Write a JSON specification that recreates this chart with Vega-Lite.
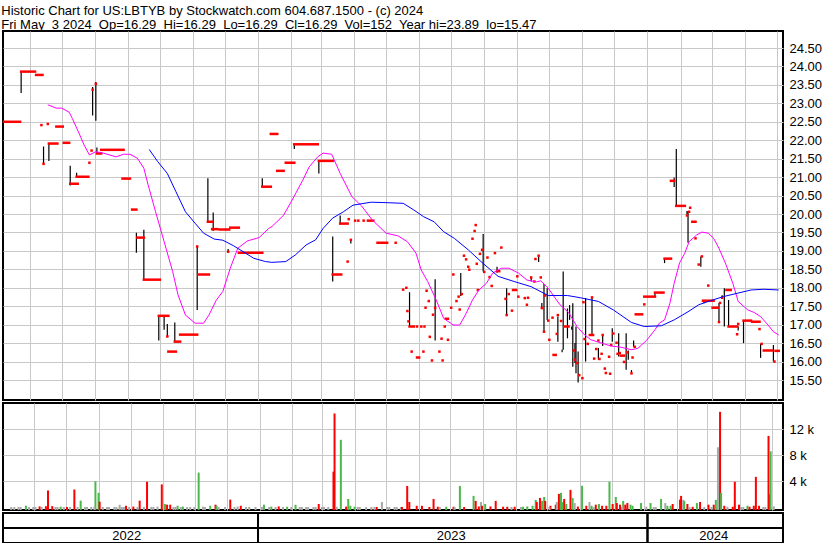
{
"$schema": "https://vega.github.io/schema/vega-lite/v6.json",
"padding": {"left": 1, "top": 5, "right": 0, "bottom": 0},
"background": "white",
"spacing": 1,
"title": {"text": ["Historic Chart for US:LBTYB by Stockwatch.com 604.687.1500 - (c) 2024", "Fri May\u00a0 3 2024\u00a0 Op=16.29\u00a0 Hi=16.29\u00a0 Lo=16.29\u00a0 Cl=16.29\u00a0 Vol=152\u00a0 Year hi=23.89\u00a0 lo=15.47"], "anchor": "start", "frame": "bounds", "font": "Liberation Sans", "fontSize": 13, "fontWeight": "normal", "color": "black", "lineHeight": 14, "offset": -2},
"config": {
  "view": {"stroke": "black", "strokeWidth": 2},
  "axis": {"labelFont": "Liberation Sans", "labelFontSize": 13, "labelColor": "black", "gridColor": "#c8c8c8", "gridOpacity": 1, "gridWidth": 1, "domain": false, "ticks": false},
  "text": {"font": "Liberation Sans", "fontSize": 13, "color": "black"}
},
"datasets": {
  "hl": [
    {"d":"2022-05-24","p":23.28,"q":23.88},{"d":"2022-06-14","p":21.36,"q":21.83},{"d":"2022-06-19","p":21.44,"q":21.93},
    {"d":"2022-07-09","p":20.77,"q":21.31},{"d":"2022-07-15","p":21.01,"q":21.12},{"d":"2022-07-30","p":22.67,"q":23.44},
    {"d":"2022-08-02","p":22.53,"q":23.58},{"d":"2022-08-03","p":21.64,"q":21.80},{"d":"2022-09-09","p":18.95,"q":19.49},
    {"d":"2022-09-16","p":18.21,"q":19.57},{"d":"2022-09-30","p":16.57,"q":17.24},{"d":"2022-10-05","p":16.86,"q":17.26},
    {"d":"2022-10-08","p":16.68,"q":17.02},{"d":"2022-10-15","p":16.54,"q":17.06},{"d":"2022-11-05","p":17.40,"q":19.13},
    {"d":"2022-11-15","p":19.79,"q":20.97},{"d":"2022-11-20","p":19.54,"q":20.04},{"d":"2022-12-04","p":18.95,"q":19.05},
    {"d":"2023-01-05","p":20.74,"q":20.97},{"d":"2023-02-04","p":21.76,"q":21.89},{"d":"2023-02-27","p":21.10,"q":21.46},
    {"d":"2023-03-12","p":18.17,"q":19.39},{"d":"2023-03-19","p":19.72,"q":19.96},{"d":"2023-03-29","p":19.20,"q":19.32},
    {"d":"2023-05-23","p":16.95,"q":17.88},{"d":"2023-06-16","p":16.57,"q":18.23},{"d":"2023-07-10","p":17.78,"q":18.40},
    {"d":"2023-07-31","p":18.44,"q":19.46},{"d":"2023-08-13","p":18.41,"q":18.57},{"d":"2023-08-22","p":17.26,"q":17.99},
    {"d":"2023-09-14","p":18.17,"q":18.30},{"d":"2023-09-21","p":18.70,"q":18.85},{"d":"2023-09-24","p":17.43,"q":17.59},
    {"d":"2023-09-26","p":16.81,"q":18.10},{"d":"2023-09-29","p":17.13,"q":17.99},{"d":"2023-10-09","p":16.54,"q":17.22},
    {"d":"2023-10-13","p":16.25,"q":16.33},{"d":"2023-10-14","p":16.32,"q":18.44},{"d":"2023-10-18","p":16.63,"q":17.44},
    {"d":"2023-10-20","p":17.13,"q":17.53},{"d":"2023-10-22","p":16.86,"q":16.95},{"d":"2023-10-23","p":15.86,"q":17.58},
    {"d":"2023-10-25","p":15.96,"q":16.50},{"d":"2023-10-26","p":15.68,"q":16.95},{"d":"2023-10-28","p":15.43,"q":16.27},
    {"d":"2023-11-04","p":16.00,"q":17.72},{"d":"2023-11-10","p":16.72,"q":17.72},{"d":"2023-11-16","p":16.05,"q":16.37},
    {"d":"2023-11-20","p":16.42,"q":16.72},{"d":"2023-11-29","p":16.54,"q":16.90},{"d":"2023-12-05","p":16.14,"q":16.77},
    {"d":"2023-12-12","p":15.78,"q":16.77},{"d":"2023-12-14","p":16.05,"q":16.30},{"d":"2023-12-17","p":15.70,"q":15.77},
    {"d":"2023-12-19","p":16.40,"q":16.57},{"d":"2024-01-08","p":17.76,"q":17.88},{"d":"2024-01-17","p":18.67,"q":18.80},
    {"d":"2024-01-26","p":20.73,"q":20.99},{"d":"2024-01-28","p":20.22,"q":21.76},{"d":"2024-02-07","p":20.00,"q":20.08},
    {"d":"2024-02-08","p":19.22,"q":20.08},{"d":"2024-02-20","p":18.57,"q":18.85},{"d":"2024-02-23","p":17.58,"q":17.63},
    {"d":"2024-03-08","p":17.07,"q":17.59},{"d":"2024-03-11","p":17.73,"q":17.80},{"d":"2024-03-13","p":16.95,"q":17.99},
    {"d":"2024-03-17","p":16.95,"q":17.67},{"d":"2024-03-26","p":16.84,"q":16.95},{"d":"2024-03-31","p":16.50,"q":17.11},
    {"d":"2024-04-16","p":16.10,"q":16.48},{"d":"2024-04-28","p":16.00,"q":16.45}
  ],
  "cl": [
    {"d":"2022-05-08","e":"2022-05-23","p":22.50},{"d":"2022-05-24","e":"2022-06-06","p":23.86},{"d":"2022-06-07","e":"2022-06-13","p":23.77},
    {"d":"2022-06-12","e":"2022-06-12","p":22.41},{"d":"2022-06-18","e":"2022-06-18","p":22.44},{"d":"2022-06-26","e":"2022-07-02","p":22.37},
    {"d":"2022-06-14","e":"2022-06-14","p":21.36},{"d":"2022-06-19","e":"2022-06-27","p":21.91},{"d":"2022-07-03","e":"2022-07-08","p":21.93},
    {"d":"2022-07-09","e":"2022-07-16","p":20.82},{"d":"2022-07-15","e":"2022-07-26","p":21.01},{"d":"2022-07-27","e":"2022-07-27","p":21.39},
    {"d":"2022-07-29","e":"2022-07-29","p":21.72},{"d":"2022-07-30","e":"2022-07-30","p":23.37},{"d":"2022-08-02","e":"2022-08-02","p":23.53},
    {"d":"2022-08-03","e":"2022-08-07","p":21.64},{"d":"2022-08-07","e":"2022-08-28","p":21.74},{"d":"2022-08-27","e":"2022-09-03","p":20.96},
    {"d":"2022-09-05","e":"2022-09-09","p":20.12},{"d":"2022-09-10","e":"2022-09-16","p":19.36},{"d":"2022-09-16","e":"2022-10-01","p":18.22},
    {"d":"2022-09-30","e":"2022-10-09","p":17.24},{"d":"2022-10-08","e":"2022-10-08","p":16.68},{"d":"2022-10-09","e":"2022-10-16","p":16.27},
    {"d":"2022-10-15","e":"2022-10-20","p":16.54},{"d":"2022-10-20","e":"2022-11-05","p":16.73},{"d":"2022-11-05","e":"2022-11-05","p":19.12},
    {"d":"2022-11-06","e":"2022-11-16","p":18.36},{"d":"2022-11-15","e":"2022-11-19","p":19.79},{"d":"2022-11-19","e":"2022-11-24","p":19.59},
    {"d":"2022-11-26","e":"2022-12-05","p":19.58},{"d":"2022-12-06","e":"2022-12-14","p":19.63},{"d":"2022-12-04","e":"2022-12-04","p":18.98},
    {"d":"2022-12-14","e":"2023-01-05","p":18.95},{"d":"2023-01-05","e":"2023-01-13","p":20.74},{"d":"2023-01-13","e":"2023-01-19","p":22.17},
    {"d":"2023-01-19","e":"2023-01-25","p":21.17},{"d":"2023-01-27","e":"2023-02-04","p":21.39},{"d":"2023-02-04","e":"2023-02-26","p":21.89},
    {"d":"2023-02-27","e":"2023-03-12","p":21.44},{"d":"2023-03-12","e":"2023-03-20","p":18.36},{"d":"2023-03-19","e":"2023-03-26","p":19.74},
    {"d":"2023-03-26","e":"2023-03-26","p":18.71},{"d":"2023-03-27","e":"2023-03-27","p":19.86},{"d":"2023-03-29","e":"2023-03-29","p":19.30},
    {"d":"2023-04-02","e":"2023-04-02","p":19.82},{"d":"2023-04-05","e":"2023-04-05","p":19.82},{"d":"2023-04-10","e":"2023-04-10","p":19.82},
    {"d":"2023-04-14","e":"2023-04-19","p":19.82},{"d":"2023-04-23","e":"2023-05-02","p":19.22},{"d":"2023-05-10","e":"2023-05-10","p":19.22},
    {"d":"2023-05-17","e":"2023-05-17","p":17.95},{"d":"2023-05-20","e":"2023-05-20","p":18.00},{"d":"2023-05-21","e":"2023-05-21","p":17.37},
    {"d":"2023-05-22","e":"2023-05-22","p":17.09},{"d":"2023-05-23","e":"2023-05-27","p":16.95},{"d":"2023-05-30","e":"2023-05-30","p":16.95},
    {"d":"2023-06-03","e":"2023-06-03","p":16.95},{"d":"2023-06-06","e":"2023-06-06","p":16.95},{"d":"2023-05-25","e":"2023-05-25","p":16.27},
    {"d":"2023-06-05","e":"2023-06-05","p":16.27},{"d":"2023-05-30","e":"2023-06-01","p":16.11},{"d":"2023-06-07","e":"2023-06-07","p":17.46},
    {"d":"2023-06-08","e":"2023-06-08","p":17.92},{"d":"2023-06-10","e":"2023-06-10","p":17.64},{"d":"2023-06-11","e":"2023-06-11","p":16.67},
    {"d":"2023-06-13","e":"2023-06-13","p":16.03},{"d":"2023-06-14","e":"2023-06-14","p":17.27},{"d":"2023-06-16","e":"2023-06-16","p":17.45},
    {"d":"2023-06-20","e":"2023-06-20","p":16.27},{"d":"2023-06-22","e":"2023-06-22","p":16.62},{"d":"2023-06-23","e":"2023-06-23","p":16.03},
    {"d":"2023-06-25","e":"2023-06-25","p":16.95},{"d":"2023-06-26","e":"2023-06-28","p":17.16},{"d":"2023-06-28","e":"2023-06-28","p":16.59},
    {"d":"2023-07-01","e":"2023-07-01","p":17.46},{"d":"2023-07-03","e":"2023-07-03","p":18.36},{"d":"2023-07-06","e":"2023-07-06","p":17.64},
    {"d":"2023-07-08","e":"2023-07-08","p":17.76},{"d":"2023-07-09","e":"2023-07-09","p":17.41},{"d":"2023-07-11","e":"2023-07-11","p":17.83},
    {"d":"2023-07-13","e":"2023-07-13","p":18.87},{"d":"2023-07-15","e":"2023-07-15","p":18.77},{"d":"2023-07-17","e":"2023-07-17","p":18.57},
    {"d":"2023-07-18","e":"2023-07-18","p":18.49},{"d":"2023-07-21","e":"2023-07-21","p":19.33},{"d":"2023-07-23","e":"2023-07-23","p":19.54},
    {"d":"2023-07-24","e":"2023-07-24","p":19.70},{"d":"2023-07-25","e":"2023-07-25","p":18.65},{"d":"2023-07-26","e":"2023-07-26","p":17.94},
    {"d":"2023-07-28","e":"2023-07-28","p":18.92},{"d":"2023-07-30","e":"2023-07-30","p":19.03},{"d":"2023-08-01","e":"2023-08-01","p":18.43},
    {"d":"2023-08-04","e":"2023-08-04","p":18.82},{"d":"2023-08-06","e":"2023-08-06","p":18.29},{"d":"2023-08-08","e":"2023-08-08","p":18.05},
    {"d":"2023-08-11","e":"2023-08-11","p":18.94},{"d":"2023-08-13","e":"2023-08-15","p":18.45},{"d":"2023-08-17","e":"2023-08-17","p":19.09},
    {"d":"2023-08-21","e":"2023-08-21","p":17.70},{"d":"2023-08-22","e":"2023-08-22","p":17.26},{"d":"2023-08-24","e":"2023-08-24","p":17.83},
    {"d":"2023-08-27","e":"2023-08-27","p":17.38},{"d":"2023-08-28","e":"2023-08-31","p":17.94},{"d":"2023-09-01","e":"2023-09-01","p":18.31},
    {"d":"2023-09-02","e":"2023-09-02","p":17.76},{"d":"2023-09-08","e":"2023-09-08","p":17.72},{"d":"2023-09-10","e":"2023-09-10","p":17.54},
    {"d":"2023-09-11","e":"2023-09-11","p":17.73},{"d":"2023-09-14","e":"2023-09-14","p":18.28},{"d":"2023-09-17","e":"2023-09-17","p":18.17},
    {"d":"2023-09-18","e":"2023-09-18","p":18.78},{"d":"2023-09-21","e":"2023-09-21","p":18.87},{"d":"2023-09-23","e":"2023-09-23","p":18.28},
    {"d":"2023-09-24","e":"2023-09-24","p":17.45},{"d":"2023-09-26","e":"2023-09-26","p":16.81},{"d":"2023-09-27","e":"2023-09-27","p":17.79},
    {"d":"2023-09-30","e":"2023-09-30","p":17.11},{"d":"2023-10-01","e":"2023-10-01","p":16.59},{"d":"2023-10-04","e":"2023-10-04","p":17.19},
    {"d":"2023-10-05","e":"2023-10-07","p":16.18},{"d":"2023-10-08","e":"2023-10-08","p":16.75},{"d":"2023-10-09","e":"2023-10-09","p":17.26},
    {"d":"2023-10-12","e":"2023-10-12","p":17.10},{"d":"2023-10-15","e":"2023-10-19","p":16.95},{"d":"2023-10-24","e":"2023-10-24","p":16.30},
    {"d":"2023-10-25","e":"2023-10-25","p":16.05},{"d":"2023-10-27","e":"2023-10-27","p":15.96},{"d":"2023-10-29","e":"2023-10-29","p":15.63},
    {"d":"2023-11-01","e":"2023-11-01","p":15.55},{"d":"2023-11-02","e":"2023-11-02","p":17.61},{"d":"2023-11-03","e":"2023-11-03","p":16.61},
    {"d":"2023-11-06","e":"2023-11-06","p":16.48},{"d":"2023-11-08","e":"2023-11-11","p":16.72},{"d":"2023-11-10","e":"2023-11-10","p":17.74},
    {"d":"2023-11-12","e":"2023-11-12","p":16.08},{"d":"2023-11-14","e":"2023-11-14","p":16.34},{"d":"2023-11-16","e":"2023-11-16","p":16.57},
    {"d":"2023-11-17","e":"2023-11-17","p":16.07},{"d":"2023-11-19","e":"2023-11-19","p":16.21},{"d":"2023-11-20","e":"2023-11-20","p":16.72},
    {"d":"2023-11-22","e":"2023-11-22","p":15.81},{"d":"2023-11-23","e":"2023-11-23","p":15.69},{"d":"2023-11-26","e":"2023-11-26","p":16.13},
    {"d":"2023-11-27","e":"2023-11-27","p":15.67},{"d":"2023-11-28","e":"2023-11-28","p":16.45},{"d":"2023-11-30","e":"2023-11-30","p":16.76},
    {"d":"2023-12-03","e":"2023-12-03","p":16.51},{"d":"2023-12-04","e":"2023-12-04","p":16.21},{"d":"2023-12-06","e":"2023-12-06","p":16.23},
    {"d":"2023-12-07","e":"2023-12-10","p":16.16},{"d":"2023-12-10","e":"2023-12-10","p":15.99},{"d":"2023-12-13","e":"2023-12-13","p":16.25},
    {"d":"2023-12-17","e":"2023-12-17","p":15.68},{"d":"2023-12-18","e":"2023-12-18","p":16.11},{"d":"2023-12-20","e":"2023-12-20","p":16.40},
    {"d":"2023-12-21","e":"2023-12-27","p":17.28},{"d":"2023-12-29","e":"2023-12-29","p":17.55},{"d":"2023-12-29","e":"2024-01-08","p":17.76},
    {"d":"2024-01-08","e":"2024-01-16","p":17.87},{"d":"2024-01-17","e":"2024-01-23","p":18.79},{"d":"2024-01-23","e":"2024-01-26","p":20.90},
    {"d":"2024-01-28","e":"2024-02-05","p":20.22},{"d":"2024-02-07","e":"2024-02-07","p":19.96},{"d":"2024-02-09","e":"2024-02-09","p":20.06},
    {"d":"2024-02-10","e":"2024-02-10","p":20.17},{"d":"2024-02-12","e":"2024-02-15","p":19.79},{"d":"2024-02-15","e":"2024-02-15","p":19.34},
    {"d":"2024-02-18","e":"2024-02-18","p":18.63},{"d":"2024-02-21","e":"2024-02-21","p":18.85},{"d":"2024-02-22","e":"2024-03-03","p":17.65},
    {"d":"2024-02-27","e":"2024-02-27","p":18.06},{"d":"2024-03-02","e":"2024-03-07","p":17.46},{"d":"2024-03-08","e":"2024-03-08","p":17.07},
    {"d":"2024-03-09","e":"2024-03-09","p":17.59},{"d":"2024-03-11","e":"2024-03-11","p":17.73},{"d":"2024-03-15","e":"2024-03-19","p":17.94},
    {"d":"2024-03-17","e":"2024-03-25","p":16.95},{"d":"2024-03-25","e":"2024-03-25","p":16.74},{"d":"2024-03-26","e":"2024-03-26","p":17.02},
    {"d":"2024-03-31","e":"2024-04-07","p":17.11},{"d":"2024-04-08","e":"2024-04-15","p":17.08},{"d":"2024-04-15","e":"2024-04-15","p":16.88},
    {"d":"2024-04-17","e":"2024-04-17","p":16.48},{"d":"2024-04-19","e":"2024-04-27","p":16.30},{"d":"2024-04-29","e":"2024-04-29","p":16.00},
    {"d":"2024-04-30","e":"2024-05-03","p":16.29}
  ],
  "ma1": [
    {"d":"2022-06-18","p":22.96},{"d":"2022-06-26","p":22.87},{"d":"2022-07-01","p":22.87},{"d":"2022-07-08","p":22.76},{"d":"2022-07-11","p":22.59},
    {"d":"2022-07-18","p":22.14},{"d":"2022-07-22","p":21.87},{"d":"2022-07-27","p":21.60},{"d":"2022-08-02","p":21.69},{"d":"2022-08-09","p":21.65},
    {"d":"2022-08-21","p":21.55},{"d":"2022-08-28","p":21.62},{"d":"2022-09-03","p":21.62},{"d":"2022-09-10","p":21.51},{"d":"2022-09-16","p":21.24},
    {"d":"2022-09-20","p":20.79},{"d":"2022-09-27","p":20.06},{"d":"2022-10-05","p":19.25},{"d":"2022-10-13","p":18.44},{"d":"2022-10-18","p":17.81},
    {"d":"2022-10-25","p":17.26},{"d":"2022-11-03","p":17.04},{"d":"2022-11-11","p":17.04},{"d":"2022-11-16","p":17.26},{"d":"2022-11-23","p":17.67},
    {"d":"2022-11-29","p":17.90},{"d":"2022-12-06","p":18.53},{"d":"2022-12-13","p":19.07},{"d":"2022-12-22","p":19.27},{"d":"2023-01-02","p":19.36},
    {"d":"2023-01-11","p":19.61},{"d":"2023-01-14","p":19.66},{"d":"2023-01-23","p":19.91},{"d":"2023-01-25","p":19.97},{"d":"2023-02-02","p":20.38},
    {"d":"2023-02-12","p":20.92},{"d":"2023-02-18","p":21.28},{"d":"2023-02-26","p":21.55},{"d":"2023-03-03","p":21.65},{"d":"2023-03-11","p":21.62},
    {"d":"2023-03-19","p":21.10},{"d":"2023-03-30","p":20.47},{"d":"2023-04-08","p":20.22},{"d":"2023-04-18","p":19.84},{"d":"2023-05-01","p":19.48},
    {"d":"2023-05-12","p":19.41},{"d":"2023-05-21","p":19.25},{"d":"2023-05-29","p":18.94},{"d":"2023-06-03","p":18.48},{"d":"2023-06-09","p":18.17},
    {"d":"2023-06-17","p":17.67},{"d":"2023-06-24","p":17.17},{"d":"2023-07-03","p":16.99},{"d":"2023-07-09","p":16.99},{"d":"2023-07-15","p":17.30},
    {"d":"2023-07-21","p":17.67},{"d":"2023-07-27","p":17.94},{"d":"2023-08-03","p":18.12},{"d":"2023-08-09","p":18.40},{"d":"2023-08-17","p":18.53},
    {"d":"2023-08-24","p":18.53},{"d":"2023-09-02","p":18.40},{"d":"2023-09-10","p":18.21},{"d":"2023-09-19","p":18.16},{"d":"2023-09-23","p":18.19},
    {"d":"2023-09-30","p":17.99},{"d":"2023-10-05","p":17.78},{"d":"2023-10-11","p":17.54},{"d":"2023-10-19","p":17.33},{"d":"2023-10-27","p":16.95},
    {"d":"2023-11-02","p":16.75},{"d":"2023-11-09","p":16.59},{"d":"2023-11-19","p":16.50},{"d":"2023-11-28","p":16.42},{"d":"2023-12-07","p":16.39},
    {"d":"2023-12-17","p":16.32},{"d":"2023-12-23","p":16.36},{"d":"2023-12-31","p":16.57},{"d":"2024-01-08","p":16.86},{"d":"2024-01-12","p":17.04},
    {"d":"2024-01-17","p":17.13},{"d":"2024-01-22","p":17.58},{"d":"2024-01-26","p":18.12},{"d":"2024-01-31","p":18.67},{"d":"2024-02-05","p":18.94},
    {"d":"2024-02-09","p":19.25},{"d":"2024-02-16","p":19.43},{"d":"2024-02-21","p":19.51},{"d":"2024-02-27","p":19.48},{"d":"2024-03-03","p":19.34},
    {"d":"2024-03-08","p":19.07},{"d":"2024-03-14","p":18.67},{"d":"2024-03-21","p":18.12},{"d":"2024-03-26","p":17.63},{"d":"2024-04-04","p":17.40},
    {"d":"2024-04-10","p":17.33},{"d":"2024-04-16","p":17.22},{"d":"2024-04-23","p":16.99},{"d":"2024-04-28","p":16.81},{"d":"2024-05-03","p":16.72}
  ],
  "ma2": [
    {"d":"2022-09-21","p":21.75},{"d":"2022-09-29","p":21.42},{"d":"2022-10-08","p":21.10},{"d":"2022-10-16","p":20.61},{"d":"2022-10-25","p":20.06},
    {"d":"2022-11-03","p":19.75},{"d":"2022-11-11","p":19.48},{"d":"2022-11-21","p":19.32},{"d":"2022-11-29","p":19.29},{"d":"2022-12-09","p":19.14},
    {"d":"2022-12-18","p":18.98},{"d":"2022-12-28","p":18.80},{"d":"2023-01-08","p":18.71},{"d":"2023-01-14","p":18.69},{"d":"2023-01-27","p":18.71},
    {"d":"2023-02-05","p":18.89},{"d":"2023-02-15","p":19.16},{"d":"2023-02-24","p":19.30},{"d":"2023-03-03","p":19.61},{"d":"2023-03-12","p":19.89},
    {"d":"2023-03-22","p":20.06},{"d":"2023-03-31","p":20.24},{"d":"2023-04-17","p":20.32},{"d":"2023-04-29","p":20.31},{"d":"2023-05-17","p":20.29},
    {"d":"2023-05-27","p":20.11},{"d":"2023-06-05","p":19.93},{"d":"2023-06-15","p":19.79},{"d":"2023-06-24","p":19.52},{"d":"2023-07-04","p":19.34},
    {"d":"2023-07-17","p":19.03},{"d":"2023-07-29","p":18.71},{"d":"2023-08-14","p":18.31},{"d":"2023-08-29","p":18.17},{"d":"2023-09-14","p":18.03},
    {"d":"2023-09-30","p":17.79},{"d":"2023-10-18","p":17.79},{"d":"2023-10-30","p":17.73},{"d":"2023-11-16","p":17.63},{"d":"2023-11-30","p":17.40},
    {"d":"2023-12-17","p":17.06},{"d":"2023-12-29","p":16.95},{"d":"2024-01-14","p":16.97},{"d":"2024-01-26","p":17.13},{"d":"2024-02-08","p":17.35},
    {"d":"2024-02-18","p":17.54},{"d":"2024-02-29","p":17.65},{"d":"2024-03-12","p":17.76},{"d":"2024-03-25","p":17.85},{"d":"2024-04-07","p":17.94},
    {"d":"2024-04-19","p":17.96},{"d":"2024-05-03","p":17.94}
  ],
  "vol": [
    {"d":"2022-05-24","v":260,"c":"up"},{"d":"2022-06-06","v":150,"c":"down"},{"d":"2022-06-12","v":180,"c":"down"},{"d":"2022-06-14","v":2600,"c":"down"},
    {"d":"2022-06-18","v":200,"c":"down"},{"d":"2022-06-26","v":120,"c":"up"},{"d":"2022-07-02","v":60,"c":"down"},{"d":"2022-07-09","v":2750,"c":"down"},
    {"d":"2022-07-15","v":1040,"c":"up"},{"d":"2022-07-29","v":4000,"c":"up"},{"d":"2022-08-01","v":2240,"c":"up"},{"d":"2022-08-02","v":880,"c":"down"},
    {"d":"2022-07-28","v":100,"c":"flat"},{"d":"2022-08-21","v":400,"c":"flat"},{"d":"2022-08-27","v":250,"c":"down"},{"d":"2022-09-03","v":120,"c":"down"},
    {"d":"2022-09-09","v":1040,"c":"down"},{"d":"2022-09-16","v":3950,"c":"down"},{"d":"2022-09-26","v":120,"c":"flat"},{"d":"2022-09-30","v":3540,"c":"down"},
    {"d":"2022-10-03","v":520,"c":"up"},{"d":"2022-10-05","v":420,"c":"down"},{"d":"2022-10-08","v":420,"c":"down"},{"d":"2022-10-15","v":250,"c":"up"},
    {"d":"2022-10-20","v":120,"c":"up"},{"d":"2022-11-04","v":5360,"c":"up"},{"d":"2022-11-08","v":120,"c":"flat"},{"d":"2022-11-15","v":250,"c":"up"},
    {"d":"2022-11-20","v":420,"c":"down"},{"d":"2022-11-21","v":250,"c":"up"},{"d":"2022-12-04","v":1200,"c":"down"},{"d":"2022-12-11","v":120,"c":"flat"},
    {"d":"2022-12-14","v":250,"c":"down"},{"d":"2023-01-05","v":420,"c":"up"},{"d":"2023-01-12","v":120,"c":"up"},{"d":"2023-01-19","v":150,"c":"down"},
    {"d":"2023-01-27","v":100,"c":"up"},{"d":"2023-02-04","v":400,"c":"up"},{"d":"2023-02-26","v":520,"c":"down"},{"d":"2023-03-12","v":5500,"c":"down"},
    {"d":"2023-03-13","v":14450,"c":"down"},{"d":"2023-03-15","v":100,"c":"flat"},{"d":"2023-03-19","v":10400,"c":"up"},{"d":"2023-03-24","v":120,"c":"down"},
    {"d":"2023-03-26","v":1300,"c":"up"},{"d":"2023-03-28","v":250,"c":"up"},{"d":"2023-04-01","v":100,"c":"up"},{"d":"2023-04-22","v":60,"c":"down"},
    {"d":"2023-04-27","v":830,"c":"flat"},{"d":"2023-05-15","v":60,"c":"flat"},{"d":"2023-05-16","v":60,"c":"down"},{"d":"2023-05-21","v":3300,"c":"down"},
    {"d":"2023-05-23","v":830,"c":"down"},{"d":"2023-05-30","v":250,"c":"down"},{"d":"2023-06-04","v":250,"c":"down"},{"d":"2023-06-11","v":60,"c":"down"},
    {"d":"2023-06-15","v":1300,"c":"down"},{"d":"2023-06-19","v":100,"c":"down"},{"d":"2023-06-27","v":100,"c":"up"},{"d":"2023-07-04","v":100,"c":"down"},
    {"d":"2023-07-10","v":3300,"c":"up"},{"d":"2023-07-14","v":60,"c":"down"},{"d":"2023-07-23","v":1770,"c":"up"},{"d":"2023-07-25","v":1000,"c":"down"},
    {"d":"2023-07-28","v":150,"c":"down"},{"d":"2023-07-30","v":830,"c":"flat"},{"d":"2023-07-31","v":250,"c":"down"},{"d":"2023-08-03","v":520,"c":"up"},
    {"d":"2023-08-08","v":150,"c":"down"},{"d":"2023-08-13","v":1000,"c":"down"},{"d":"2023-08-20","v":100,"c":"down"},{"d":"2023-08-24","v":100,"c":"down"},
    {"d":"2023-08-31","v":100,"c":"down"},{"d":"2023-09-08","v":100,"c":"up"},{"d":"2023-09-12","v":150,"c":"up"},{"d":"2023-09-17","v":250,"c":"up"},
    {"d":"2023-09-20","v":1150,"c":"up"},{"d":"2023-09-21","v":830,"c":"down"},{"d":"2023-09-24","v":1460,"c":"down"},{"d":"2023-09-26","v":1000,"c":"up"},
    {"d":"2023-09-28","v":1600,"c":"up"},{"d":"2023-09-29","v":1000,"c":"down"},{"d":"2023-10-04","v":250,"c":"down"},{"d":"2023-10-09","v":420,"c":"down"},
    {"d":"2023-10-10","v":830,"c":"flat"},{"d":"2023-10-12","v":2080,"c":"down"},{"d":"2023-10-14","v":2240,"c":"up"},{"d":"2023-10-15","v":830,"c":"up"},
    {"d":"2023-10-17","v":1300,"c":"down"},{"d":"2023-10-19","v":520,"c":"up"},{"d":"2023-10-23","v":2700,"c":"down"},{"d":"2023-10-25","v":1460,"c":"up"},
    {"d":"2023-10-27","v":670,"c":"flat"},{"d":"2023-10-30","v":120,"c":"down"},{"d":"2023-11-03","v":3330,"c":"up"},{"d":"2023-11-07","v":250,"c":"down"},
    {"d":"2023-11-10","v":830,"c":"flat"},{"d":"2023-11-12","v":250,"c":"up"},{"d":"2023-11-16","v":420,"c":"down"},{"d":"2023-11-19","v":520,"c":"up"},
    {"d":"2023-11-22","v":250,"c":"down"},{"d":"2023-11-26","v":250,"c":"down"},{"d":"2023-11-29","v":3950,"c":"up"},{"d":"2023-12-02","v":520,"c":"down"},
    {"d":"2023-12-05","v":1600,"c":"up"},{"d":"2023-12-06","v":670,"c":"down"},{"d":"2023-12-09","v":420,"c":"down"},{"d":"2023-12-12","v":1000,"c":"up"},
    {"d":"2023-12-14","v":420,"c":"down"},{"d":"2023-12-16","v":670,"c":"down"},{"d":"2023-12-19","v":420,"c":"up"},{"d":"2023-12-21","v":250,"c":"up"},
    {"d":"2023-12-29","v":670,"c":"up"},{"d":"2024-01-03","v":100,"c":"flat"},{"d":"2024-01-07","v":670,"c":"up"},{"d":"2024-01-17","v":1300,"c":"up"},
    {"d":"2024-01-21","v":670,"c":"flat"},{"d":"2024-01-23","v":250,"c":"up"},{"d":"2024-01-26","v":250,"c":"up"},{"d":"2024-01-28","v":520,"c":"down"},
    {"d":"2024-02-04","v":1200,"c":"down"},{"d":"2024-02-05","v":1770,"c":"down"},{"d":"2024-02-07","v":1150,"c":"flat"},{"d":"2024-02-08","v":1000,"c":"up"},
    {"d":"2024-02-11","v":520,"c":"down"},{"d":"2024-02-16","v":100,"c":"down"},{"d":"2024-02-20","v":670,"c":"up"},{"d":"2024-02-23","v":830,"c":"down"},
    {"d":"2024-03-02","v":420,"c":"down"},{"d":"2024-03-07","v":420,"c":"down"},{"d":"2024-03-09","v":1150,"c":"up"},{"d":"2024-03-11","v":9250,"c":"flat"},
    {"d":"2024-03-13","v":14700,"c":"down"},{"d":"2024-03-14","v":2240,"c":"up"},{"d":"2024-03-17","v":250,"c":"down"},{"d":"2024-03-20","v":100,"c":"flat"},
    {"d":"2024-03-25","v":100,"c":"down"},{"d":"2024-03-27","v":3950,"c":"down"},{"d":"2024-03-31","v":420,"c":"down"},{"d":"2024-04-08","v":250,"c":"up"},
    {"d":"2024-04-10","v":100,"c":"down"},{"d":"2024-04-14","v":250,"c":"down"},{"d":"2024-04-16","v":4700,"c":"down"},{"d":"2024-04-19","v":250,"c":"down"},
    {"d":"2024-04-28","v":11000,"c":"down"},{"d":"2024-04-29","v":2000,"c":"down"},{"d":"2024-04-30","v":8630,"c":"up"},{"d":"2024-05-03","v":152,"c":"flat"},
    {"d":"2022-05-10","v":60,"c":"flat"},{"d":"2022-05-13","v":60,"c":"flat"},{"d":"2022-05-17","v":60,"c":"flat"},{"d":"2022-05-19","v":60,"c":"flat"},
    {"d":"2022-05-27","v":60,"c":"flat"},{"d":"2022-05-31","v":60,"c":"flat"},{"d":"2022-06-02","v":60,"c":"flat"},{"d":"2022-06-08","v":60,"c":"flat"},
    {"d":"2022-06-21","v":60,"c":"flat"},{"d":"2022-06-23","v":60,"c":"flat"},{"d":"2022-06-29","v":60,"c":"flat"},{"d":"2022-07-05","v":60,"c":"flat"},
    {"d":"2022-07-12","v":60,"c":"flat"},{"d":"2022-07-19","v":60,"c":"flat"},{"d":"2022-07-21","v":60,"c":"flat"},{"d":"2022-07-25","v":60,"c":"flat"},
    {"d":"2022-08-05","v":60,"c":"flat"},{"d":"2022-08-09","v":60,"c":"flat"},{"d":"2022-08-11","v":60,"c":"flat"},{"d":"2022-08-16","v":60,"c":"flat"},
    {"d":"2022-08-18","v":60,"c":"flat"},{"d":"2022-08-23","v":60,"c":"flat"},{"d":"2022-08-25","v":60,"c":"flat"},{"d":"2022-08-30","v":60,"c":"flat"},
    {"d":"2022-09-07","v":60,"c":"flat"},{"d":"2022-09-13","v":60,"c":"flat"},{"d":"2022-09-20","v":60,"c":"flat"},{"d":"2022-09-22","v":60,"c":"flat"},
    {"d":"2022-10-11","v":60,"c":"flat"},{"d":"2022-10-13","v":60,"c":"flat"},{"d":"2022-10-18","v":60,"c":"flat"},{"d":"2022-10-24","v":60,"c":"flat"},
    {"d":"2022-10-27","v":60,"c":"flat"},{"d":"2022-10-31","v":60,"c":"flat"},{"d":"2022-11-10","v":60,"c":"flat"},{"d":"2022-11-23","v":60,"c":"flat"},
    {"d":"2022-11-29","v":60,"c":"flat"},{"d":"2022-12-08","v":60,"c":"flat"},{"d":"2022-12-19","v":60,"c":"flat"},{"d":"2022-12-22","v":60,"c":"flat"},
    {"d":"2022-12-28","v":60,"c":"flat"},{"d":"2023-01-03","v":60,"c":"flat"},{"d":"2023-01-10","v":60,"c":"flat"},{"d":"2023-01-16","v":60,"c":"flat"},
    {"d":"2023-01-23","v":60,"c":"flat"},{"d":"2023-01-31","v":60,"c":"flat"},{"d":"2023-02-08","v":60,"c":"flat"},{"d":"2023-02-10","v":60,"c":"flat"},
    {"d":"2023-02-14","v":60,"c":"flat"},{"d":"2023-02-16","v":60,"c":"flat"},{"d":"2023-02-21","v":60,"c":"flat"},{"d":"2023-02-23","v":60,"c":"flat"},
    {"d":"2023-03-01","v":60,"c":"flat"},{"d":"2023-03-03","v":60,"c":"flat"},{"d":"2023-03-07","v":60,"c":"flat"},{"d":"2023-04-04","v":60,"c":"flat"},
    {"d":"2023-04-06","v":60,"c":"flat"},{"d":"2023-04-12","v":60,"c":"flat"},{"d":"2023-04-17","v":60,"c":"flat"},{"d":"2023-04-20","v":60,"c":"flat"},
    {"d":"2023-05-02","v":60,"c":"flat"},{"d":"2023-05-04","v":60,"c":"flat"},{"d":"2023-05-09","v":60,"c":"flat"},{"d":"2023-05-11","v":60,"c":"flat"},
    {"d":"2023-06-21","v":60,"c":"flat"},{"d":"2023-07-05","v":60,"c":"flat"},{"d":"2023-08-28","v":60,"c":"flat"},{"d":"2023-09-06","v":60,"c":"flat"},
    {"d":"2023-10-03","v":60,"c":"flat"},{"d":"2023-11-14","v":60,"c":"flat"},{"d":"2023-12-11","v":60,"c":"flat"},{"d":"2024-01-10","v":60,"c":"flat"},
    {"d":"2024-01-12","v":60,"c":"flat"},{"d":"2024-02-13","v":60,"c":"flat"},{"d":"2024-02-27","v":60,"c":"flat"},{"d":"2024-03-05","v":60,"c":"flat"},
    {"d":"2024-04-02","v":60,"c":"flat"},{"d":"2024-04-04","v":60,"c":"flat"},{"d":"2024-04-23","v":60,"c":"flat"},{"d":"2024-04-25","v":60,"c":"flat"}
  ],
  "yrs": [
    {"d":"2022-01-01","e":"2023-01-01","r":"a"},{"d":"2023-01-01","e":"2024-01-01","r":"a"},{"d":"2024-01-01","e":"2025-01-01","r":"a"},
    {"d":"2022-01-01","e":"2023-01-01","r":"b"},{"d":"2023-01-01","e":"2024-01-01","r":"b"},{"d":"2024-01-01","e":"2025-01-01","r":"b"}
  ],
  "ylab": [
    {"d":"2022-08-31","r":"b","t":"2022"},{"d":"2023-07-01","r":"b","t":"2023"},{"d":"2024-03-03","r":"b","t":"2024"}
  ]
},
"vconcat": [
  {
    "width": 780, "height": 369,
    "encoding": {
      "x": {"field": "d", "type": "temporal", "title": null,
            "scale": {"type": "utc", "domain": [{"year": 2022, "month": 5, "date": 7, "utc": true}, {"year": 2024, "month": 5, "date": 7, "utc": true}]},
            "axis": {"labels": false, "ticks": false, "domain": false, "title": null, "grid": true, "tickCount": {"interval": "month", "step": 1}}},
      "y": {"field": "p", "type": "quantitative", "title": null,
            "scale": {"domain": [14.958, 24.961], "nice": false, "zero": false},
            "axis": {"orient": "right", "title": null, "values": [15.5, 16, 16.5, 17, 17.5, 18, 18.5, 19, 19.5, 20, 20.5, 21, 21.5, 22, 22.5, 23, 23.5, 24, 24.5], "format": ".2f", "labelPadding": 6, "grid": true}}
    },
    "layer": [
      {"data": {"name": "hl"}, "mark": {"type": "rule", "color": "black", "strokeWidth": 1.2}, "encoding": {"y2": {"field": "q"}}},
      {"data": {"name": "cl"}, "mark": {"type": "rule", "color": "#ff0000", "strokeWidth": 2.5, "strokeCap": "square"}, "encoding": {"x2": {"field": "e"}}},
      {"data": {"name": "ma1"}, "mark": {"type": "line", "color": "#ff00ff", "strokeWidth": 1}},
      {"data": {"name": "ma2"}, "mark": {"type": "line", "color": "#0000ff", "strokeWidth": 1}},
      {"data": {"values": [{"t": "US:LBTYB"}]}, "mark": {"type": "text", "align": "left", "baseline": "alphabetic"},
       "encoding": {"x": {"datum": {"year": 2022, "month": 5, "date": 15, "utc": true}}, "y": {"datum": 24.53}, "text": {"field": "t"}}}
    ]
  },
  {
    "width": 780, "height": 107,
    "encoding": {
      "x": {"field": "d", "type": "temporal", "title": null,
            "scale": {"type": "utc", "domain": [{"year": 2022, "month": 5, "date": 7, "utc": true}, {"year": 2024, "month": 5, "date": 7, "utc": true}]},
            "axis": {"labels": false, "ticks": false, "domain": false, "title": null, "grid": true, "tickCount": {"interval": "month", "step": 1}}},
      "y": {"field": "v", "type": "quantitative", "title": null,
            "scale": {"domain": [-400, 16060], "nice": false, "zero": false},
            "axis": {"orient": "right", "title": null, "values": [4000, 8000, 12000], "labelExpr": "datum.value / 1000 + ' k'", "labelPadding": 6, "grid": true}}
    },
    "layer": [
      {"data": {"name": "vol"}, "mark": {"type": "bar", "width": 2},
       "encoding": {"y2": {"datum": -400},
                    "color": {"field": "c", "type": "nominal", "legend": null, "scale": {"domain": ["up", "down", "flat"], "range": ["#4cb84c", "#ff0000", "#a8a8a8"]}}}},
      {"data": {"values": [{"t": "Volume"}]}, "mark": {"type": "text", "align": "left", "baseline": "alphabetic"},
       "encoding": {"x": {"datum": {"year": 2022, "month": 5, "date": 15, "utc": true}}, "y": {"datum": 13460}, "text": {"field": "t"}}}
    ]
  },
  {
    "width": 780, "height": 30,
    "encoding": {
      "x": {"field": "d", "type": "temporal", "title": null, "axis": null,
            "scale": {"type": "utc", "domain": [{"year": 2022, "month": 5, "date": 7, "utc": true}, {"year": 2024, "month": 5, "date": 7, "utc": true}]}},
      "y": {"field": "r", "type": "nominal", "title": null, "axis": null, "scale": {"domain": ["a", "b"], "paddingInner": 0, "paddingOuter": 0}}
    },
    "layer": [
      {"data": {"name": "yrs"}, "mark": {"type": "rect", "clip": true, "stroke": "black", "strokeWidth": 2, "fill": "white", "fillOpacity": 0}, "encoding": {"x2": {"field": "e"}}},
      {"data": {"name": "ylab"}, "mark": {"type": "text", "align": "center", "baseline": "middle"}, "encoding": {"text": {"field": "t"}}}
    ]
  }
]
}
